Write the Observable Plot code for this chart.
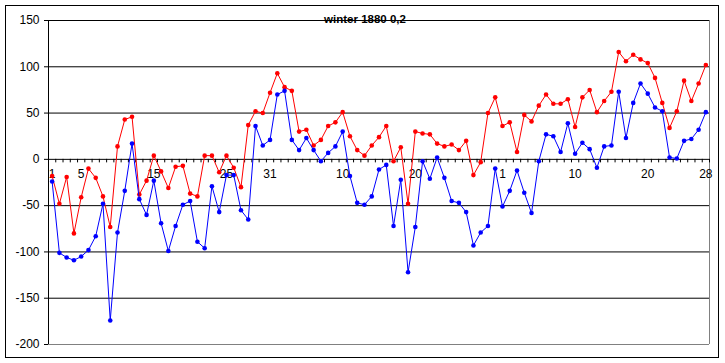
<!DOCTYPE html>
<html>
<head>
<meta charset="utf-8">
<script src="https://cdn.jsdelivr.net/npm/d3@7"></script>
<script src="https://cdn.jsdelivr.net/npm/@observablehq/plot@0.6"></script>
<style>
  html, body { margin: 0; padding: 0; background: #fff; }
  #chart svg { display: block; background: #fff; }
</style>
</head>
<body>
<div id="chart"></div>
<script>
const title = "winter 1880 0,2";

const redValues = [
  -18, -48, -19, -80, -41, -10, -20, -40, -73, 14,
  43, 46, -38, -23, 4, -13, -31, -8, -7, -37,
  -40, 4, 4, -14, 4, -9, -30, 37, 52, 50,
  72, 93, 78, 74, 30, 32, 15, 21, 36, 40,
  51, 25, 10, 4, 15, 24, 36, -2, 13, -48,
  30, 28, 27, 17, 14, 16, 10, 20, -17, -3,
  50, 67, 36, 40, 8, 48, 41, 58, 70, 60,
  60, 65, 35, 67, 75, 51, 63, 73, 116, 106,
  113, 108, 104, 88, 61, 34, 52, 85, 63, 82,
  102
];

const blueValues = [
  -24, -101, -106, -109, -105, -98, -83, -48, -174, -79,
  -34, 17, -43, -60, -23, -69, -99, -72, -49, -45,
  -89, -96, -29, -57, -17, -17, -55, -65, 36, 15,
  21, 70, 74, 21, 10, 23, 10, -2, 7, 14,
  30, -18, -47, -49, -40, -11, -6, -72, -22, -122,
  -73, -2, -21, 2, -20, -45, -47, -57, -93, -79,
  -72, -10, -51, -34, -12, -36, -58, -2, 27, 25,
  8, 39, 6, 18, 11, -9, 14, 15, 73, 23,
  61, 82, 71, 56, 52, 2, 1, 20, 22, 32,
  51
];

const labelIndex = [0, 4, 14, 24, 30, 40, 50, 62, 72, 82, 90];
const labelText  = ["1", "5", "15", "25", "31", "10", "20", "1", "10", "20", "28"];

const yTicks = [-200, -150, -100, -50, 0, 50, 100, 150];
const gridValues = [-150, -100, -50, 50, 100, 150];

const n = redValues.length;
const idx = d3.range(n);
const boundaries = d3.range(n + 1).map(i => i - 0.5);
const labels = labelIndex.map((i, k) => ({i, t: labelText[k]}));

const font = "'Liberation Sans', Arial, sans-serif";

const chart = Plot.plot({
  width: 725,
  height: 363,
  marginLeft: 48,
  marginRight: 16,
  marginTop: 20,
  marginBottom: 19,
  style: {fontFamily: font, fontSize: "12px", background: "#fff", color: "#000"},
  x: {type: "linear", domain: [-0.5, n - 0.5], axis: null},
  y: {domain: [-200, 150]},
  marks: [
    Plot.ruleY(gridValues, {stroke: "#000", strokeWidth: 1}),
    Plot.ruleY([-200], {stroke: "#808080", strokeWidth: 1}),
    Plot.ruleX([n - 0.5], {stroke: "#808080", strokeWidth: 1}),
    Plot.ruleX([-0.5], {stroke: "#000", strokeWidth: 1}),
    Plot.axisY({ticks: yTicks, tickSize: 4, tickPadding: 5, tickFormat: d => String(d), fontSize: 12, stroke: "#000", strokeOpacity: 1}),
    Plot.ruleY([0], {stroke: "#000", strokeWidth: 1}),
    Plot.ruleX(boundaries, {x: d => d, y1: 0, y2: -3.8, stroke: "#000", strokeWidth: 1}),
    Plot.text(labels, {x: "i", y: () => 0, text: "t", dy: 15, fontSize: 12, fill: "#000"}),
    Plot.text([title], {frameAnchor: "top", text: d => d, dx: -14, dy: -6, fontWeight: "bold", fontSize: 11.5, fill: "#000"}),
    Plot.line(idx, {x: d => d, y: d => redValues[d], stroke: "#ff0000", strokeWidth: 1, curve: "linear"}),
    Plot.dot(idx, {x: d => d, y: d => redValues[d], r: 2.3, fill: "#ff0000", stroke: "none"}),
    Plot.line(idx, {x: d => d, y: d => blueValues[d], stroke: "#0000ff", strokeWidth: 1, curve: "linear"}),
    Plot.dot(idx, {x: d => d, y: d => blueValues[d], r: 2.3, fill: "#0000ff", stroke: "none"})
  ]
});

d3.select(chart).append("rect")
  .attr("x", 5.5).attr("y", 5.5)
  .attr("width", 713).attr("height", 352)
  .attr("fill", "none").attr("stroke", "#000").attr("stroke-width", 1);

document.getElementById("chart").appendChild(chart);
</script>
</body>
</html>
